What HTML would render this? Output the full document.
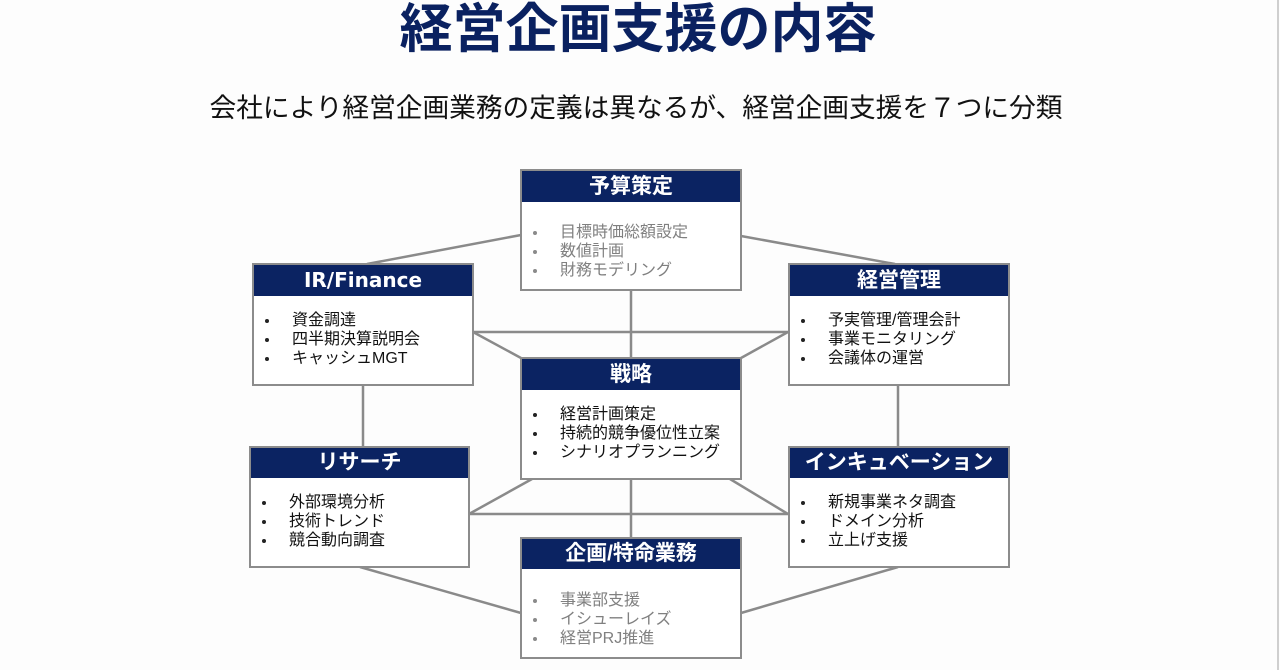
<!DOCTYPE html>
<html>
<head>
<meta charset="utf-8">
<style>
  html,body{margin:0;padding:0;}
  body{width:1280px;height:670px;background:#fdfdfd;position:relative;overflow:hidden;
    font-family:"Liberation Sans","Noto Sans CJK JP",sans-serif;}
  .title{position:absolute;left:0;width:1276px;top:3px;height:54px;line-height:54px;text-align:center;
    font-size:53px;font-weight:bold;color:#0a2160;letter-spacing:0px;}
  .sub{position:absolute;left:0;width:1272px;top:92px;height:32px;line-height:32px;text-align:center;
    font-size:26.7px;color:#111;}
  .edge{position:absolute;left:1277px;top:0;width:2px;height:670px;background:#cfcfcf;}
  svg{position:absolute;left:0;top:0;}
  .box{position:absolute;box-sizing:border-box;border:2px solid #8c8c8c;background:#fff;}
  .hd{position:absolute;left:0;right:0;top:0;background:#0b2362;color:#fff;font-weight:bold;
    font-size:21px;text-align:center;}
  .hd.lat{font-family:"DejaVu Sans","Liberation Sans",sans-serif;font-size:20px;}
  .ls{position:absolute;left:0;right:0;margin:0;padding:0;list-style:none;font-size:16px;line-height:19px;color:#111;}
  .ls li{position:relative;padding-left:38px;white-space:nowrap;}
  .ls li::before{content:"";position:absolute;left:11px;top:8px;width:4px;height:4px;border-radius:50%;background:#222;}
  .ls.g{color:#808080;}
  .ls.g li::before{background:#8a8a8a;}
</style>
</head>
<body>
<div class="title">経営企画支援の内容</div>
<div class="sub">会社により経営企画業務の定義は異なるが、経営企画支援を７つに分類</div>
<div class="edge"></div>

<svg width="1280" height="670" viewBox="0 0 1280 670">
  <g stroke="#8a8a8a" stroke-width="2.5" fill="none">
    <line x1="521" y1="235" x2="367" y2="264"/>
    <line x1="741" y1="236" x2="895" y2="264"/>
    <line x1="631" y1="290" x2="631" y2="358"/>
    <line x1="473" y1="332" x2="788" y2="332"/>
    <line x1="473" y1="332" x2="521" y2="358"/>
    <line x1="788" y1="332" x2="741" y2="358"/>
    <line x1="363" y1="385" x2="363" y2="447"/>
    <line x1="898" y1="385" x2="898" y2="447"/>
    <line x1="532" y1="479" x2="469" y2="514"/>
    <line x1="469" y1="514" x2="788" y2="514"/>
    <line x1="730" y1="479" x2="788" y2="514"/>
    <line x1="631" y1="479" x2="631" y2="538"/>
    <line x1="360" y1="567" x2="521" y2="613"/>
    <line x1="898" y1="567" x2="741" y2="613"/>
  </g>
</svg>

<!-- 予算策定 -->
<div class="box" style="left:520px;top:169px;width:222px;height:122px;">
  <div class="hd" style="height:31px;line-height:31px;">予算策定</div>
  <ul class="ls g" style="top:52px;">
    <li>目標時価総額設定</li><li>数値計画</li><li>財務モデリング</li>
  </ul>
</div>

<!-- IR/Finance -->
<div class="box" style="left:252px;top:263px;width:222px;height:123px;">
  <div class="hd lat" style="height:31px;line-height:31px;">IR/Finance</div>
  <ul class="ls" style="top:46px;">
    <li>資金調達</li><li>四半期決算説明会</li><li>キャッシュMGT</li>
  </ul>
</div>

<!-- 経営管理 -->
<div class="box" style="left:788px;top:263px;width:222px;height:123px;">
  <div class="hd" style="height:31px;line-height:31px;">経営管理</div>
  <ul class="ls" style="top:46px;">
    <li>予実管理/管理会計</li><li>事業モニタリング</li><li>会議体の運営</li>
  </ul>
</div>

<!-- 戦略 -->
<div class="box" style="left:520px;top:357px;width:222px;height:123px;">
  <div class="hd" style="height:31px;line-height:31px;">戦略</div>
  <ul class="ls" style="top:46px;">
    <li>経営計画策定</li><li>持続的競争優位性立案</li><li>シナリオプランニング</li>
  </ul>
</div>

<!-- リサーチ -->
<div class="box" style="left:249px;top:446px;width:221px;height:122px;">
  <div class="hd" style="height:30px;line-height:30px;">リサーチ</div>
  <ul class="ls" style="top:45px;">
    <li>外部環境分析</li><li>技術トレンド</li><li>競合動向調査</li>
  </ul>
</div>

<!-- インキュベーション -->
<div class="box" style="left:788px;top:446px;width:222px;height:122px;">
  <div class="hd" style="height:30px;line-height:30px;">インキュベーション</div>
  <ul class="ls" style="top:45px;">
    <li>新規事業ネタ調査</li><li>ドメイン分析</li><li>立上げ支援</li>
  </ul>
</div>

<!-- 企画/特命業務 -->
<div class="box" style="left:520px;top:537px;width:222px;height:122px;">
  <div class="hd" style="height:30px;line-height:30px;">企画/特命業務</div>
  <ul class="ls g" style="top:52px;">
    <li>事業部支援</li><li>イシューレイズ</li><li>経営PRJ推進</li>
  </ul>
</div>
</body>
</html>
